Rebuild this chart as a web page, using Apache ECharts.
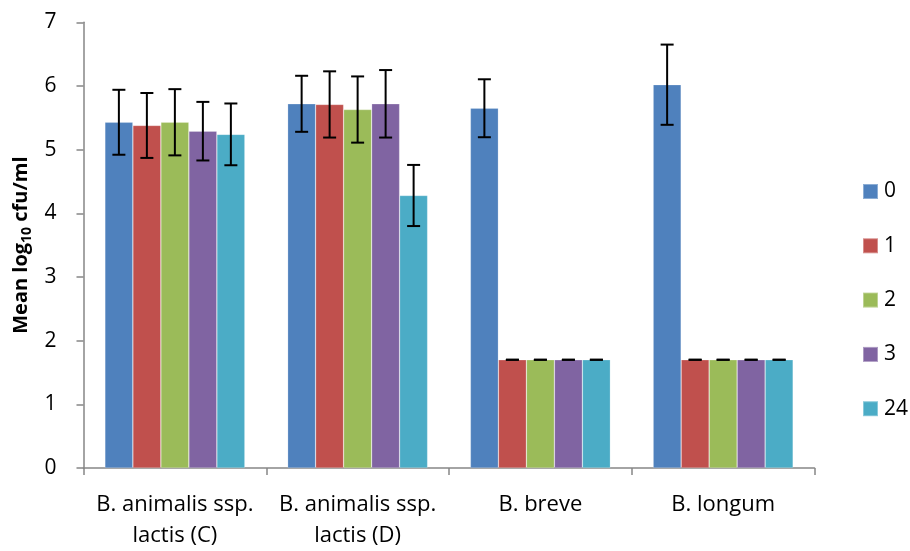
<!DOCTYPE html>
<html><head><meta charset="utf-8">
<script src="https://cdn.jsdelivr.net/npm/echarts@6/dist/echarts.min.js"></script>
<style>html,body{margin:0;padding:0;background:#fff}#c{width:910px;height:551px}</style>
</head><body><div id="c"></div>
<script>
const categories = ['B. animalis ssp.\nlactis (C)', 'B. animalis ssp.\nlactis (D)', 'B. breve', 'B. longum'];
const seriesNames = ['0', '1', '2', '3', '24'];
const s0 = [5.43, 5.72, 5.65, 6.02];
const s1 = [5.38, 5.71, 1.70, 1.70];
const s2 = [5.43, 5.63, 1.70, 1.70];
const s3 = [5.29, 5.72, 1.70, 1.70];
const s24 = [5.24, 4.28, 1.70, 1.70];
const e0 = [0.51, 0.44, 0.455, 0.63];
const e1 = [0.51, 0.52, 0, 0];
const e2 = [0.52, 0.52, 0, 0];
const e3 = [0.46, 0.53, 0, 0];
const e24 = [0.485, 0.48, 0, 0];
const yTicks = [0, 1, 2, 3, 4, 5, 6, 7];

const values = [s0, s1, s2, s3, s24];
const errors = [e0, e1, e2, e3, e24];
const colors = ['#4F81BD', '#C0504D', '#9BBB59', '#8064A2', '#4BACC6'];
const FONT = 'Open Sans';
const catGap = 0.234;

const errData = [];
values.forEach((arr, si) => arr.forEach((v, ci) => errData.push([ci, v, errors[si][ci], si])));

const chart = echarts.init(document.getElementById('c'));
const series = values.map((arr, i) => ({
  name: seriesNames[i], type: 'bar', data: arr,
  barGap: '0%', barCategoryGap: (catGap * 100) + '%',
  itemStyle: { color: colors[i], borderColor: 'rgba(255,255,255,0.35)', borderWidth: 0.6 }
}));
series.push({
  type: 'custom', name: 'err', z: 10, silent: true,
  data: errData,
  renderItem: function (params, api) {
    const ci = api.value(0), v = api.value(1), e = api.value(2), si = api.value(3);
    const c = api.coord([ci, v]);
    const catW = api.size([1, 0])[0];
    const bw = catW * (1 - catGap) / 5;
    const x = c[0] - catW * (1 - catGap) / 2 + (si + 0.5) * bw;
    const yt = api.coord([ci, v + e])[1];
    const yb = api.coord([ci, v - e])[1];
    const hw = 6.5;
    const st = { stroke: '#000', lineWidth: 2 };
    return { type: 'group', children: [
      { type: 'line', shape: { x1: x, y1: yt, x2: x, y2: yb }, style: st },
      { type: 'line', shape: { x1: x - hw, y1: yt, x2: x + hw, y2: yt }, style: st },
      { type: 'line', shape: { x1: x - hw, y1: yb, x2: x + hw, y2: yb }, style: st }
    ]};
  },
  encode: { x: 0, y: 1 }
});

chart.setOption({
  animation: false,
  textStyle: { fontFamily: FONT },
  grid: { left: 83.5, right: 95.5, top: 22.3, bottom: 82.3, containLabel: false },
  legend: {
    data: seriesNames, orient: 'vertical', left: 857, top: 176,
    itemWidth: 15, itemHeight: 15, itemGap: 33.3, icon: 'rect',
    textStyle: { fontFamily: FONT, fontSize: 21, color: '#000', lineHeight: 15, padding: [0, 0, 0, 1] }
  },
  xAxis: {
    type: 'category', data: categories,
    axisLine: { lineStyle: { color: '#868686', width: 1.5 } },
    axisTick: { show: true, length: 7, lineStyle: { color: '#868686', width: 1.5 } },
    axisLabel: { fontFamily: FONT, fontSize: 22, color: '#000', lineHeight: 31, margin: 21, interval: 0 }
  },
  yAxis: {
    type: 'value', min: 0, max: 7, interval: 1,
    name: '{b|Mean log}{s|10}{b| cfu/ml}', nameLocation: 'middle', nameGap: 48, nameRotate: 90,
    nameTextStyle: { rich: {
      b: { fontFamily: FONT, fontSize: 20, fontWeight: 'bold', color: '#000', lineHeight: 24 },
      s: { fontFamily: FONT, fontSize: 14, fontWeight: 'bold', color: '#000', lineHeight: 24, verticalAlign: 'bottom', padding: [8, 0, 0, 0] }
    } },
    axisLine: { show: true, lineStyle: { color: '#868686', width: 1.5 } },
    axisTick: { show: true, length: 7, lineStyle: { color: '#868686', width: 1.5 } },
    splitLine: { show: false },
    axisLabel: { fontFamily: FONT, fontSize: 21, color: '#000', margin: 27,
      formatter: v => yTicks.includes(v) ? String(v) : '' }
  },
  series: series
});
</script></body></html>
